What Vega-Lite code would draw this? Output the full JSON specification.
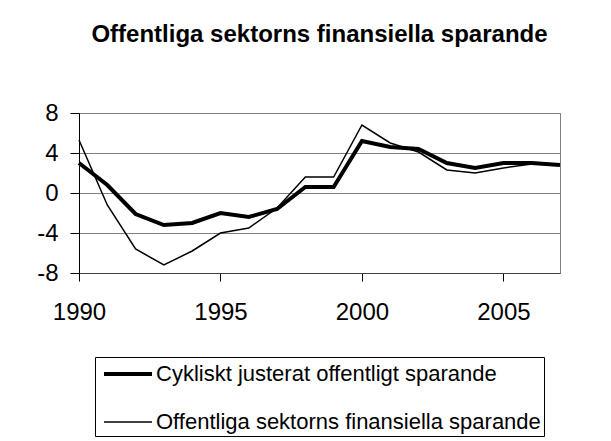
{
  "$schema": "https://vega.github.io/schema/vega-lite/v6.json",
  "width": 481,
  "height": 160,
  "autosize": {"type": "none"},
  "padding": {"left": 79, "top": 113, "right": 51, "bottom": 168},
  "background": "white",
  "title": {
    "text": "Offentliga sektorns finansiella sparande",
    "font": "Liberation Sans",
    "fontSize": 24,
    "fontWeight": "bold",
    "color": "black",
    "anchor": "middle",
    "frame": "group",
    "baseline": "alphabetic",
    "offset": 35
  },
  "data": {
    "values": [
      {"year": 1990, "series": "Cykliskt justerat offentligt sparande", "value": 3.0},
      {"year": 1991, "series": "Cykliskt justerat offentligt sparande", "value": 0.8},
      {"year": 1992, "series": "Cykliskt justerat offentligt sparande", "value": -2.1},
      {"year": 1993, "series": "Cykliskt justerat offentligt sparande", "value": -3.2},
      {"year": 1994, "series": "Cykliskt justerat offentligt sparande", "value": -3.0},
      {"year": 1995, "series": "Cykliskt justerat offentligt sparande", "value": -2.0},
      {"year": 1996, "series": "Cykliskt justerat offentligt sparande", "value": -2.4},
      {"year": 1997, "series": "Cykliskt justerat offentligt sparande", "value": -1.6},
      {"year": 1998, "series": "Cykliskt justerat offentligt sparande", "value": 0.6},
      {"year": 1999, "series": "Cykliskt justerat offentligt sparande", "value": 0.6},
      {"year": 2000, "series": "Cykliskt justerat offentligt sparande", "value": 5.2},
      {"year": 2001, "series": "Cykliskt justerat offentligt sparande", "value": 4.6},
      {"year": 2002, "series": "Cykliskt justerat offentligt sparande", "value": 4.4},
      {"year": 2003, "series": "Cykliskt justerat offentligt sparande", "value": 3.0},
      {"year": 2004, "series": "Cykliskt justerat offentligt sparande", "value": 2.5},
      {"year": 2005, "series": "Cykliskt justerat offentligt sparande", "value": 3.0},
      {"year": 2006, "series": "Cykliskt justerat offentligt sparande", "value": 3.0},
      {"year": 2007, "series": "Cykliskt justerat offentligt sparande", "value": 2.8},
      {"year": 1990, "series": "Offentliga sektorns finansiella sparande", "value": 5.3},
      {"year": 1991, "series": "Offentliga sektorns finansiella sparande", "value": -1.2},
      {"year": 1992, "series": "Offentliga sektorns finansiella sparande", "value": -5.6},
      {"year": 1993, "series": "Offentliga sektorns finansiella sparande", "value": -7.2},
      {"year": 1994, "series": "Offentliga sektorns finansiella sparande", "value": -5.8},
      {"year": 1995, "series": "Offentliga sektorns finansiella sparande", "value": -4.0},
      {"year": 1996, "series": "Offentliga sektorns finansiella sparande", "value": -3.5},
      {"year": 1997, "series": "Offentliga sektorns finansiella sparande", "value": -1.5},
      {"year": 1998, "series": "Offentliga sektorns finansiella sparande", "value": 1.6},
      {"year": 1999, "series": "Offentliga sektorns finansiella sparande", "value": 1.6},
      {"year": 2000, "series": "Offentliga sektorns finansiella sparande", "value": 6.8},
      {"year": 2001, "series": "Offentliga sektorns finansiella sparande", "value": 5.0},
      {"year": 2002, "series": "Offentliga sektorns finansiella sparande", "value": 4.1},
      {"year": 2003, "series": "Offentliga sektorns finansiella sparande", "value": 2.3},
      {"year": 2004, "series": "Offentliga sektorns finansiella sparande", "value": 2.0},
      {"year": 2005, "series": "Offentliga sektorns finansiella sparande", "value": 2.5},
      {"year": 2006, "series": "Offentliga sektorns finansiella sparande", "value": 2.9},
      {"year": 2007, "series": "Offentliga sektorns finansiella sparande", "value": 2.8}
    ]
  },
  "mark": {"type": "line", "color": "black", "strokeJoin": "miter", "clip": false},
  "encoding": {
    "x": {
      "field": "year",
      "type": "quantitative",
      "scale": {"domain": [1990, 2007], "nice": false, "zero": false},
      "axis": {
        "title": null,
        "values": [1990, 1995, 2000, 2005],
        "format": "d",
        "grid": false,
        "tickSize": 8,
        "labelPadding": 19,
        "labelFontSize": 24,
        "labelFont": "Liberation Sans",
        "labelColor": "black",
        "domainColor": "#404040",
        "tickColor": "black",
        "labelFlush": false
      }
    },
    "y": {
      "field": "value",
      "type": "quantitative",
      "scale": {"domain": [-8, 8], "nice": false},
      "axis": {
        "title": null,
        "values": [-8, -4, 0, 4, 8],
        "labelExpr": "'' + datum.value",
        "grid": true,
        "gridColor": "#808080",
        "gridWidth": 1,
        "tickSize": 9,
        "labelPadding": 12,
        "labelFontSize": 24,
        "labelFont": "Liberation Sans",
        "labelColor": "black",
        "domainColor": "black",
        "tickColor": "black"
      }
    },
    "detail": {"field": "series"},
    "strokeWidth": {
      "field": "series",
      "type": "nominal",
      "scale": {
        "domain": ["Cykliskt justerat offentligt sparande", "Offentliga sektorns finansiella sparande"],
        "range": [4, 1.5]
      },
      "legend": {
        "title": null,
        "orient": "none",
        "legendX": 16,
        "legendY": 244,
        "symbolType": "M-2,0H2",
        "symbolSize": 576,
        "symbolOffset": 16,
        "symbolStrokeColor": "black",
        "labelFontSize": 22,
        "labelFont": "Liberation Sans",
        "labelColor": "black",
        "labelOffset": 14,
        "labelLimit": 500,
        "rowPadding": 24,
        "padding": 3,
        "strokeColor": "black",
        "fillColor": "white"
      }
    }
  },
  "config": {
    "view": {"stroke": "#808080"}
  }
}
